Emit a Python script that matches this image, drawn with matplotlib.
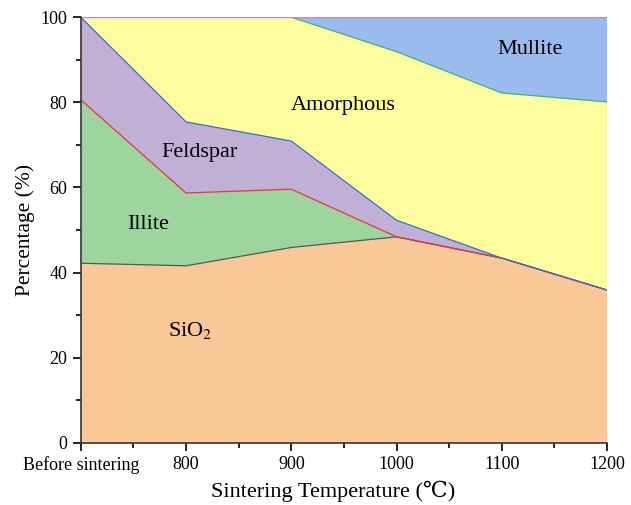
import matplotlib
matplotlib.use("Agg")
import matplotlib.pyplot as plt
from matplotlib.ticker import MultipleLocator
import numpy as np

plt.rcParams['font.family'] = ['Liberation Serif', 'DejaVu Serif']
plt.rcParams['mathtext.fontset'] = 'stix'

temps = ['Before sintering', '800', '900', '1000', '1100', '1200']
sio2 = [42.2, 41.6, 45.9, 48.4, 43.4, 35.9]
illite = [38.4, 17.1, 13.7, 0.0, 0.0, 0.0]
feldspar = [19.4, 16.7, 11.3, 3.9, 0.0, 0.0]
amorphous = [0.0, 24.6, 29.1, 39.6, 38.8, 44.2]
mullite = [0.0, 0.0, 0.0, 8.1, 17.8, 19.9]

fills = ['#f9c896', '#9ed59e', '#c0b0d6', '#fdfda0', '#9bbbef']
edges = ['#555555', '#e8323c', '#2f6fd6', '#3cb371', '#c080e0']

x = np.arange(len(temps))
layers = np.vstack([sio2, illite, feldspar, amorphous, mullite])
tops = np.cumsum(layers, axis=0)

fig, ax = plt.subplots(figsize=(6.31, 5.05), dpi=100)
fig.subplots_adjust(left=0.128, right=0.962, top=0.966, bottom=0.123)

ax.stackplot(x, layers, colors=fills, linewidth=0)
for top, c in zip(tops, edges):
    ax.plot(x, top, color=c, lw=0.9)
# thin edge along the last column
ax.plot([x[-1], x[-1]], [tops[2][-1], 100], color='#3cb371', lw=0.8)

lab = dict(fontsize=16, ha='center', va='center')
ax.text(1.04, 26.5, 'SiO$_2$', **lab)
ax.text(0.64, 51.2, 'Illite', **lab)
ax.text(1.13, 68.1, 'Feldspar', **lab)
ax.text(2.49, 79.3, 'Amorphous', **lab)
ax.text(4.27, 92.3, 'Mullite', **lab)

ax.set_xlim(0, 5)
ax.set_ylim(0, 100)
ax.set_xticks(x)
ax.set_xticklabels(temps, fontsize=13)
ax.xaxis.set_minor_locator(MultipleLocator(0.5))
ax.yaxis.set_major_locator(MultipleLocator(20))
ax.yaxis.set_minor_locator(MultipleLocator(10))
ax.tick_params(axis='y', labelsize=13)
ax.tick_params(which='major', direction='out', length=6, width=1.2)
ax.tick_params(which='minor', direction='out', length=3.5, width=1.2)
ax.set_xlabel('Sintering Temperature (℃)', fontsize=16)
ax.xaxis.set_label_coords(0.479, -0.088)
ax.set_ylabel('Percentage (%)', fontsize=15.5)

for s in ['top', 'right']:
    ax.spines[s].set_visible(False)
for s in ['left', 'bottom']:
    ax.spines[s].set_linewidth(1.2)
    ax.spines[s].set_color('#333333')

fig.savefig('out.png', dpi=100)
